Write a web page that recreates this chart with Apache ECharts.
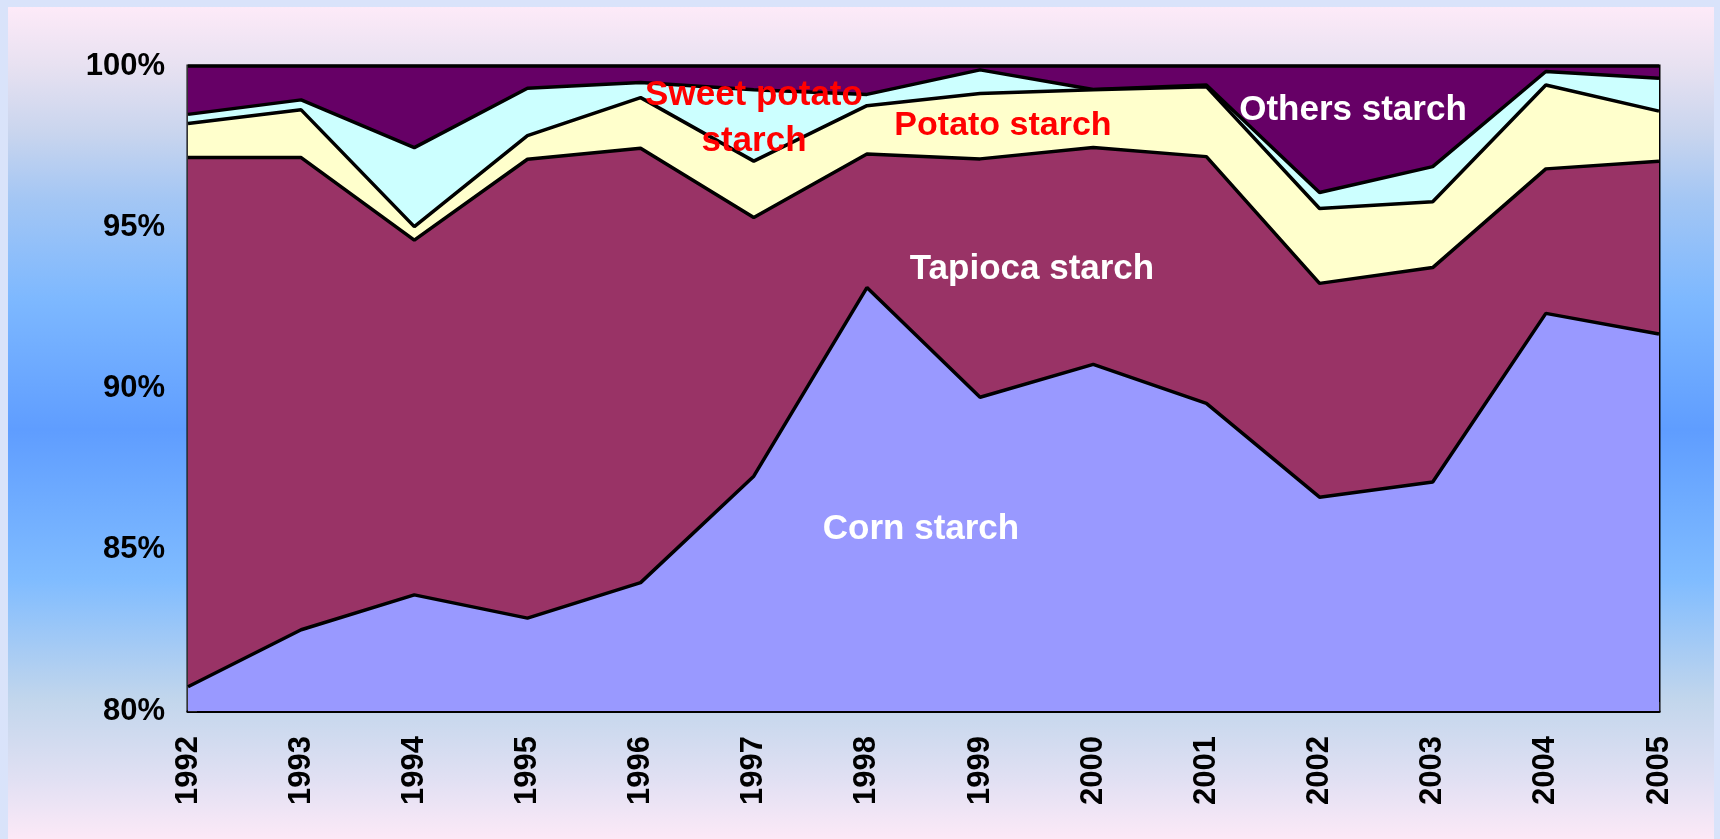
<!DOCTYPE html>
<html>
<head>
<meta charset="utf-8">
<title>Starch production mix 1992-2005</title>
<script src="https://cdn.jsdelivr.net/npm/echarts@6/dist/echarts.min.js"></script>
<style>
  html, body { margin: 0; padding: 0; width: 1720px; height: 839px; overflow: hidden; background: #d9e3fa; }
  #chart-starch { position: absolute; left: 8px; top: 7px; width: 1706px; height: 832px; }
</style>
</head>
<body>
<div id="chart-starch"></div>
<script>
// share of each starch type, % of total
var years = ['1992', '1993', '1994', '1995', '1996', '1997', '1998', '1999', '2000', '2001', '2002', '2003', '2004', '2005'];
var corn = [80.75, 82.52, 83.60, 82.88, 83.98, 87.28, 93.13, 89.73, 90.75, 89.54, 86.63, 87.10, 92.33, 91.69];
var tapioca = [16.41, 14.64, 11.00, 14.23, 13.47, 8.02, 4.14, 7.39, 6.72, 7.65, 6.63, 6.65, 4.48, 5.36];
var potato = [1.06, 1.48, 0.42, 0.73, 1.57, 1.75, 1.50, 2.03, 1.79, 2.17, 2.32, 2.04, 2.60, 1.55];
var sweetPotato = [0.28, 0.31, 2.45, 1.47, 0.47, 2.21, 0.35, 0.73, 0.01, 0.05, 0.50, 1.09, 0.42, 1.02];
var others = [1.50, 1.05, 2.53, 0.69, 0.51, 0.74, 0.88, 0.12, 0.73, 0.59, 3.92, 3.12, 0.17, 0.38];
var yTicks = [80, 85, 90, 95, 100];

(function() {
  var font = '"Liberation Sans", Arial, sans-serif';
  var chart = echarts.init(document.getElementById('chart-starch'), null, { renderer: 'canvas' });

  // each area keeps its own black top edge; lower series are drawn last so their edge stays on top
  function area(name, data, color, z) {
    return {
      name: name,
      type: 'line',
      stack: 'total',
      data: data,
      z: z,
      showSymbol: false,
      symbol: 'none',
      lineStyle: { color: '#000', width: 3.5 },
      areaStyle: { color: color, opacity: 1 }
    };
  }

  function label(text, x, y, color, size) {
    return {
      type: 'text',
      x: x,
      y: y,
      z: 100,
      silent: true,
      style: {
        text: text,
        fill: color,
        font: 'bold ' + size + 'px ' + font,
        textAlign: 'center',
        textVerticalAlign: 'middle',
        lineHeight: 46
      }
    };
  }

  chart.setOption({
    animation: false,
    backgroundColor: {
      type: 'linear', x: 0, y: 0, x2: 0, y2: 1,
      colorStops: [
        { offset: 0, color: '#fdeaf8' },
        { offset: 0.072, color: '#e7e1f1' },
        { offset: 0.151, color: '#c9d5ee' },
        { offset: 0.232, color: '#a3c6f4' },
        { offset: 0.352, color: '#7db8ff' },
        { offset: 0.508, color: '#5f9dff' },
        { offset: 0.689, color: '#80bcff' },
        { offset: 0.833, color: '#c2d6ec' },
        { offset: 0.929, color: '#e1e0f3' },
        { offset: 1, color: '#fce9f7' }
      ]
    },
    grid: {
      left: 180,
      right: 55,
      top: 59,
      bottom: 128,
      show: true,
      borderColor: '#000',
      borderWidth: 3,
      backgroundColor: 'transparent'
    },
    xAxis: {
      type: 'category',
      data: years,
      boundaryGap: false,
      axisLine: { lineStyle: { color: '#000', width: 3 } },
      axisTick: { inside: true, length: 9, lineStyle: { color: '#222', width: 1 } },
      axisLabel: {
        interval: 0,
        rotate: 90,
        margin: 25,
        color: '#000',
        fontFamily: font,
        fontWeight: 'bold',
        fontSize: 31
      },
      splitLine: { show: false }
    },
    yAxis: {
      type: 'value',
      min: yTicks[0],
      max: yTicks[yTicks.length - 1],
      interval: yTicks[1] - yTicks[0],
      axisLine: { show: true, lineStyle: { color: '#333', width: 2 } },
      axisTick: { show: true, inside: true, length: 9, lineStyle: { color: '#222', width: 1 } },
      axisLabel: {
        margin: 23,
        color: '#000',
        fontFamily: font,
        fontWeight: 'bold',
        fontSize: 31,
        formatter: '{value}%'
      },
      splitLine: { show: false }
    },
    series: [
      area('Corn starch', corn, '#9999ff', 7),
      area('Tapioca starch', tapioca, '#993366', 6),
      area('Potato starch', potato, '#ffffcc', 5),
      area('Sweet potato starch', sweetPotato, '#ccffff', 4),
      area('Others starch', others, '#660066', 3)
    ],
    graphic: [
      label('Sweet potato\nstarch', 746, 111, '#ff0000', 35),
      label('Potato starch', 995, 119, '#ff0000', 34),
      label('Tapioca starch', 1024, 262, '#ffffff', 35),
      label('Others starch', 1345, 103, '#ffffff', 35),
      label('Corn starch', 913, 522, '#ffffff', 35)
    ]
  });

  window.addEventListener('resize', function() { chart.resize(); });
})();
</script>
</body>
</html>
